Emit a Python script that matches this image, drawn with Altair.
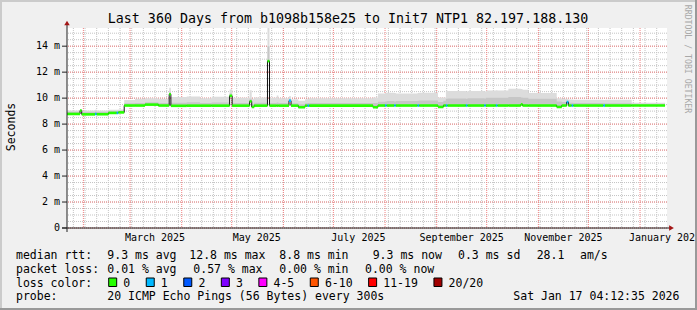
import altair as alt
import pandas as pd

# ---------------- values ----------------
chart_title = "Last 360 Days from b1098b158e25 to Init7 NTP1 82.197.188.130"
y_title = "Seconds"
credit = "RRDTOOL / TOBI OETIKER"
range_start = "2025-01-22 04:12:35"
range_end = "2026-01-17 04:12:35"

seg_start = [
    "2025-01-22 04:12", "2025-01-30 00:00", "2025-01-31 00:00", "2025-02-08 00:00",
    "2025-02-09 00:00", "2025-02-16 00:00", "2025-02-21 00:00", "2025-02-22 00:00",
    "2025-02-25 12:00", "2025-03-04 00:00", "2025-03-10 00:00", "2025-03-18 00:00",
    "2025-03-24 12:00", "2025-03-25 12:00", "2025-04-04 00:00", "2025-04-12 00:00",
    "2025-04-19 00:00", "2025-04-29 18:00", "2025-05-01 06:00", "2025-05-11 18:00",
    "2025-05-13 00:00", "2025-05-14 12:00", "2025-05-22 11:00", "2025-05-23 16:00",
    "2025-05-28 00:00", "2025-05-29 00:00", "2025-06-04 09:00", "2025-06-05 14:00",
    "2025-06-10 00:00", "2025-06-14 00:00", "2025-06-15 12:00", "2025-06-16 12:00",
    "2025-07-24 18:00", "2025-07-27 18:00", "2025-08-01 00:00", "2025-08-02 00:00",
    "2025-08-06 12:00", "2025-08-07 12:00", "2025-08-20 12:00", "2025-08-21 12:00",
    "2025-09-01 18:00", "2025-09-05 00:00", "2025-09-06 12:00", "2025-09-07 12:00",
    "2025-09-18 12:00", "2025-09-19 12:00", "2025-09-29 12:00", "2025-09-30 12:00",
    "2025-10-06 12:00", "2025-10-07 12:00", "2025-10-14 00:00", "2025-10-21 12:00",
    "2025-10-22 12:00", "2025-10-26 00:00", "2025-11-12 00:00", "2025-11-15 00:00",
    "2025-11-18 00:00", "2025-11-19 00:00", "2025-11-21 00:00", "2025-11-22 00:00",
    "2025-12-10 00:00", "2025-12-11 00:00", "2025-12-27 00:00",
]
data_end = "2026-01-16 00:00"

median_ms = [
    8.78, 9.05, 8.75, 8.78, 8.76, 8.86, 8.86, 8.90,
    9.43, 9.43, 9.50, 9.43, 10.30, 9.41, 9.42, 9.42,
    9.42, 10.18, 9.42, 9.75, 9.32, 9.42, 12.85, 9.42,
    9.42, 9.42, 9.80, 9.42, 9.30, 9.42, 9.42, 9.42,
    9.30, 9.43, 9.43, 9.43, 9.43, 9.43, 9.43, 9.43,
    9.32, 9.43, 9.43, 9.43, 9.43, 9.43, 9.43, 9.43,
    9.43, 9.43, 9.43, 9.52, 9.43, 9.43, 9.32, 9.43,
    9.70, 9.43, 9.43, 9.43, 9.43, 9.43, 9.43,
]
smoke_hi_ms = [
    9.05, 9.12, 9.05, 9.10, 9.05, 9.10, 9.10, 9.12,
    9.85, 9.95, 10.00, 9.95, 10.80, 10.08, 10.12, 10.00,
    10.10, 10.67, 10.02, 10.60, 9.95, 10.05, 15.40, 10.02,
    10.20, 10.00, 10.15, 9.92, 9.80, 9.92, 9.95, 10.00,
    10.05, 10.35, 10.40, 10.42, 10.40, 10.35, 10.40, 10.42,
    10.05, 10.05, 10.55, 10.55, 10.50, 10.55, 10.52, 10.58,
    10.60, 10.58, 10.72, 10.70, 10.65, 10.40, 10.00, 9.95,
    9.95, 9.90, 9.90, 9.88, 9.85, 9.88, 9.65,
]
smoke_mid_ms = [
    8.95, 9.05, 8.95, 8.98, 8.95, 9.00, 9.00, 9.02,
    9.60, 9.62, 9.68, 9.62, 10.45, 9.65, 9.68, 9.62,
    9.66, 10.35, 9.62, 9.95, 9.55, 9.64, 14.00, 9.62,
    9.66, 9.62, 9.95, 9.60, 9.52, 9.60, 9.62, 9.63,
    9.62, 9.72, 9.75, 9.78, 9.75, 9.78, 9.80, 9.82,
    9.70, 9.80, 9.95, 9.98, 9.95, 10.00, 9.98, 10.02,
    10.02, 10.02, 10.08, 10.05, 10.02, 9.95, 9.75, 9.70,
    9.78, 9.65, 9.65, 9.62, 9.60, 9.60, 9.55,
]
loss_idx = [
    0, 0, 0, 1, 0, 0, 1, 0,
    0, 0, 0, 0, 0, 0, 0, 0,
    0, 0, 0, 0, 0, 0, 0, 0,
    0, 0, 1, 0, 0, 0, 1, 0,
    0, 0, 1, 0, 1, 0, 1, 0,
    0, 0, 1, 0, 1, 0, 1, 0,
    1, 0, 0, 0, 0, 0, 0, 0,
    1, 0, 1, 0, 1, 0, 0,
]

loss_labels = ["0", "1", "2", "3", "4-5", "6-10", "11-19", "20/20"]
loss_colors = ["#26ff00", "#00b8ff", "#0059ff", "#7e00ff", "#ff00ff", "#ff5500", "#ff0000", "#a10000"]

x_label_dates = ["2025-03-16", "2025-05-16", "2025-07-16", "2025-09-16", "2025-11-16", "2026-01-16"]
x_label_text = ["March 2025", "May 2025", "July 2025", "September 2025", "November 2025", "January 2026"]
y_major = [0, 2, 4, 6, 8, 10, 12, 14]
y_major_text = ["0", "2 m", "4 m", "6 m", "8 m", "10 m", "12 m", "14 m"]
y_max = 15.4

stats_rtt = ["median rtt:", "9.3 ms avg", "12.8 ms max", "8.8 ms min", "9.3 ms now",
             "0.3 ms sd", "28.1", "am/s"]
stats_loss = ["packet loss:", "0.01 % avg", "0.57 % max", "0.00 % min", "0.00 % now"]
loss_caption = "loss color:"
probe_row = ["probe:", "20 ICMP Echo Pings (56 Bytes) every 300s", "Sat Jan 17 04:12:35 2026"]

# ---------------- layout / style ----------------
PL, PT, W, H = 67, 28, 600, 200
FONT = "DejaVu Sans Mono"
LEG_FS = 11.5
CHAR_W = 6.94
row1_x = [16, 107.3, 189.3, 279.3, 372.7, 458, 536.7, 580]
row2_x = [16, 107.3, 193.3, 279.3, 365]
row4_x = [16, 107.3, 513.3]
row_base = [259, 272.8, 286.6, 300.4]


def dt(s):
    ts = pd.Timestamp(s)
    return alt.DateTime(year=ts.year, month=ts.month, date=ts.day,
                        hours=ts.hour, minutes=ts.minute, seconds=ts.second)


xscale = alt.Scale(domain=[dt(range_start), dt(range_end)], nice=False)
yscale = alt.Scale(domain=[0, y_max], nice=False, zero=False)

# tables built from the arrays
seg = pd.DataFrame({
    "start": pd.to_datetime(seg_start),
    "end": pd.to_datetime(seg_start[1:] + [data_end]),
    "med": median_ms,
    "hi": smoke_hi_ms,
    "mid": smoke_mid_ms,
    "loss": [loss_labels[i] for i in loss_idx],
})
pts = pd.DataFrame({
    "t": pd.to_datetime(seg_start + [data_end]),
    "med": median_ms + [median_ms[-1]],
    "hi": smoke_hi_ms + [smoke_hi_ms[-1]],
    "mid": smoke_mid_ms + [smoke_mid_ms[-1]],
})

weeks = pd.DataFrame({"t": pd.date_range("2025-01-26", "2026-01-11", freq="7D")})
months = pd.DataFrame({"t": pd.date_range("2025-02-01", "2026-01-01", freq="MS")})
y_minor = pd.DataFrame({"v": [i / 2 for i in range(0, 31)]})
y_maj = pd.DataFrame({"v": y_major, "lbl": y_major_text})
x_lab = pd.DataFrame({"t": pd.to_datetime(x_label_dates), "lbl": x_label_text})
one = pd.DataFrame({"a": [0]})


def X(f):
    return alt.X(f, type="temporal", scale=xscale, axis=None)


def Y(f):
    return alt.Y(f, type="quantitative", scale=yscale, axis=None)


grid_week = alt.Chart(weeks).mark_rule(color="#c4c4c4", strokeDash=[1, 1]).encode(x=X("t"))
grid_ymin = alt.Chart(y_minor).mark_rule(color="#c4c4c4", strokeDash=[1, 1]).encode(y=Y("v"))
grid_month = alt.Chart(months).mark_rule(color="#f08080", strokeDash=[1, 1]).encode(x=X("t"))
grid_ymaj = alt.Chart(y_maj).mark_rule(color="#f08080", strokeDash=[1, 1]).encode(y=Y("v"))

# axis labels & ticks drawn through the scales
x_labels = alt.Chart(x_lab).mark_text(font=FONT, fontSize=10, color="black", align="center",
                                      baseline="alphabetic").encode(
    x=X("t"), y=alt.value(241 - PT), text="lbl:N")
y_labels = alt.Chart(y_maj).mark_text(font=FONT, fontSize=10, color="black", align="right",
                                      baseline="middle").encode(
    y=Y("v"), x=alt.value(60 - PL), text="lbl:N")
y_ticks = alt.Chart(y_maj).mark_rule(color="#202020").encode(
    y=Y("v"), x=alt.value(-5), x2=alt.value(0))

smoke_light = alt.Chart(pts).mark_area(interpolate="step-after", color="#dcdcdc").encode(
    x=X("t"), y=Y("med"), y2="hi")
smoke_dark = alt.Chart(pts).mark_area(interpolate="step-after", color="#c6c6c6").encode(
    x=X("t"), y=Y("med"), y2="mid")
med_line = alt.Chart(pts).mark_line(interpolate="step-after", color="#101010", strokeWidth=1).encode(
    x=X("t"), y=Y("med"))
med_loss = alt.Chart(seg).mark_rule(strokeWidth=2.6).encode(
    x=X("start"), x2="end", y=Y("med"),
    color=alt.Color("loss:N", scale=alt.Scale(domain=loss_labels, range=loss_colors), legend=None))

# axis lines and arrows
x_axis_line = alt.Chart(one).mark_rule(color="#202020").encode(
    x=alt.value(-5), x2=alt.value(603), y=alt.value(H))
y_axis_line = alt.Chart(one).mark_rule(color="#202020").encode(
    x=alt.value(0), y=alt.value(H + 4), y2=alt.value(-4))
x_arrow = alt.Chart(one).mark_point(shape="triangle-right", filled=True, size=30, color="#a31515",
                                    opacity=1).encode(x=alt.value(604.5), y=alt.value(H))
y_arrow = alt.Chart(one).mark_point(shape="triangle-up", filled=True, size=30, color="#a31515",
                                    opacity=1).encode(x=alt.value(0), y=alt.value(-5))

# texts
title_layer = alt.Chart(one).mark_text(font=FONT, fontSize=13.3, color="black", align="center",
                                       baseline="alphabetic").encode(
    x=alt.value(348 - PL), y=alt.value(23.3 - PT), text=alt.value(chart_title))
ytitle_layer = alt.Chart(one).mark_text(font=FONT, fontSize=11.5, color="black", align="center",
                                        baseline="alphabetic", angle=270).encode(
    x=alt.value(14.5 - PL), y=alt.value(127 - PT), text=alt.value(y_title))
credit_layer = alt.Chart(one).mark_text(font=FONT, fontSize=8.2, color="#a8a8a8", align="center",
                                        baseline="alphabetic", angle=90).encode(
    x=alt.value(685 - PL), y=alt.value(59 - PT), text=alt.value(credit))

rows = []
for txt, xx in zip(stats_rtt, row1_x):
    rows.append({"txt": txt, "px": xx - PL, "py": row_base[0] - PT})
for txt, xx in zip(stats_loss, row2_x):
    rows.append({"txt": txt, "px": xx - PL, "py": row_base[1] - PT})
rows.append({"txt": loss_caption, "px": 16 - PL, "py": row_base[2] - PT})
for txt, xx in zip(probe_row, row4_x):
    rows.append({"txt": txt, "px": xx - PL, "py": row_base[3] - PT})
legend_text = alt.Chart(pd.DataFrame(rows)).mark_text(
    font=FONT, fontSize=LEG_FS, color="black", align="left", baseline="alphabetic").encode(
    x=alt.X("px:Q", scale=None, axis=None), y=alt.Y("py:Q", scale=None, axis=None), text="txt:N")

items = []
cx = 108.7
for lab, col in zip(loss_labels, loss_colors):
    items.append({"bx": cx - PL, "bx2": cx + 8 - PL, "lx": cx + 14.6 - PL, "label": lab, "col": col,
                  "by": 278 - PT, "by2": 286.5 - PT, "ly": row_base[2] - PT})
    cx = cx + 14.6 + len(lab) * CHAR_W + 16
items = pd.DataFrame(items)
legend_boxes = alt.Chart(items).mark_rect(stroke="black", strokeWidth=1).encode(
    x=alt.X("bx:Q", scale=None, axis=None), x2="bx2:Q",
    y=alt.Y("by:Q", scale=None, axis=None), y2="by2:Q",
    fill=alt.Fill("col:N", scale=None))
legend_labels = alt.Chart(items).mark_text(
    font=FONT, fontSize=LEG_FS, color="black", align="left", baseline="alphabetic").encode(
    x=alt.X("lx:Q", scale=None, axis=None), y=alt.Y("ly:Q", scale=None, axis=None), text="label:N")

# frame
frame_top = alt.Chart(one).mark_rule(color="#cbcbcb", strokeWidth=2).encode(
    x=alt.value(-PL), x2=alt.value(697 - PL), y=alt.value(1 - PT))
frame_left = alt.Chart(one).mark_rule(color="#cbcbcb", strokeWidth=2).encode(
    x=alt.value(1 - PL), y=alt.value(-PT), y2=alt.value(310 - PT))
frame_bottom = alt.Chart(one).mark_rule(color="#999999", strokeWidth=2).encode(
    x=alt.value(-PL), x2=alt.value(697 - PL), y=alt.value(309 - PT))
frame_right = alt.Chart(one).mark_rule(color="#999999", strokeWidth=2).encode(
    x=alt.value(696 - PL), y=alt.value(-PT), y2=alt.value(310 - PT))

chart = alt.layer(
    grid_week, grid_ymin, grid_month, grid_ymaj,
    smoke_light, smoke_dark, med_line, med_loss,
    x_axis_line, y_axis_line, y_ticks, x_arrow, y_arrow,
    x_labels, y_labels,
    title_layer, ytitle_layer, credit_layer,
    legend_text, legend_boxes, legend_labels,
    frame_top, frame_left, frame_bottom, frame_right,
).properties(
    width=W, height=H,
    autosize=alt.AutoSizeParams(type="none"),
    padding={"left": PL, "top": PT, "right": 697 - PL - W, "bottom": 310 - PT - H},
    background="#f0f0f0",
).configure_view(stroke=None, fill="white")

chart.save("out.html", embed_options={"renderer": "svg", "actions": False})
